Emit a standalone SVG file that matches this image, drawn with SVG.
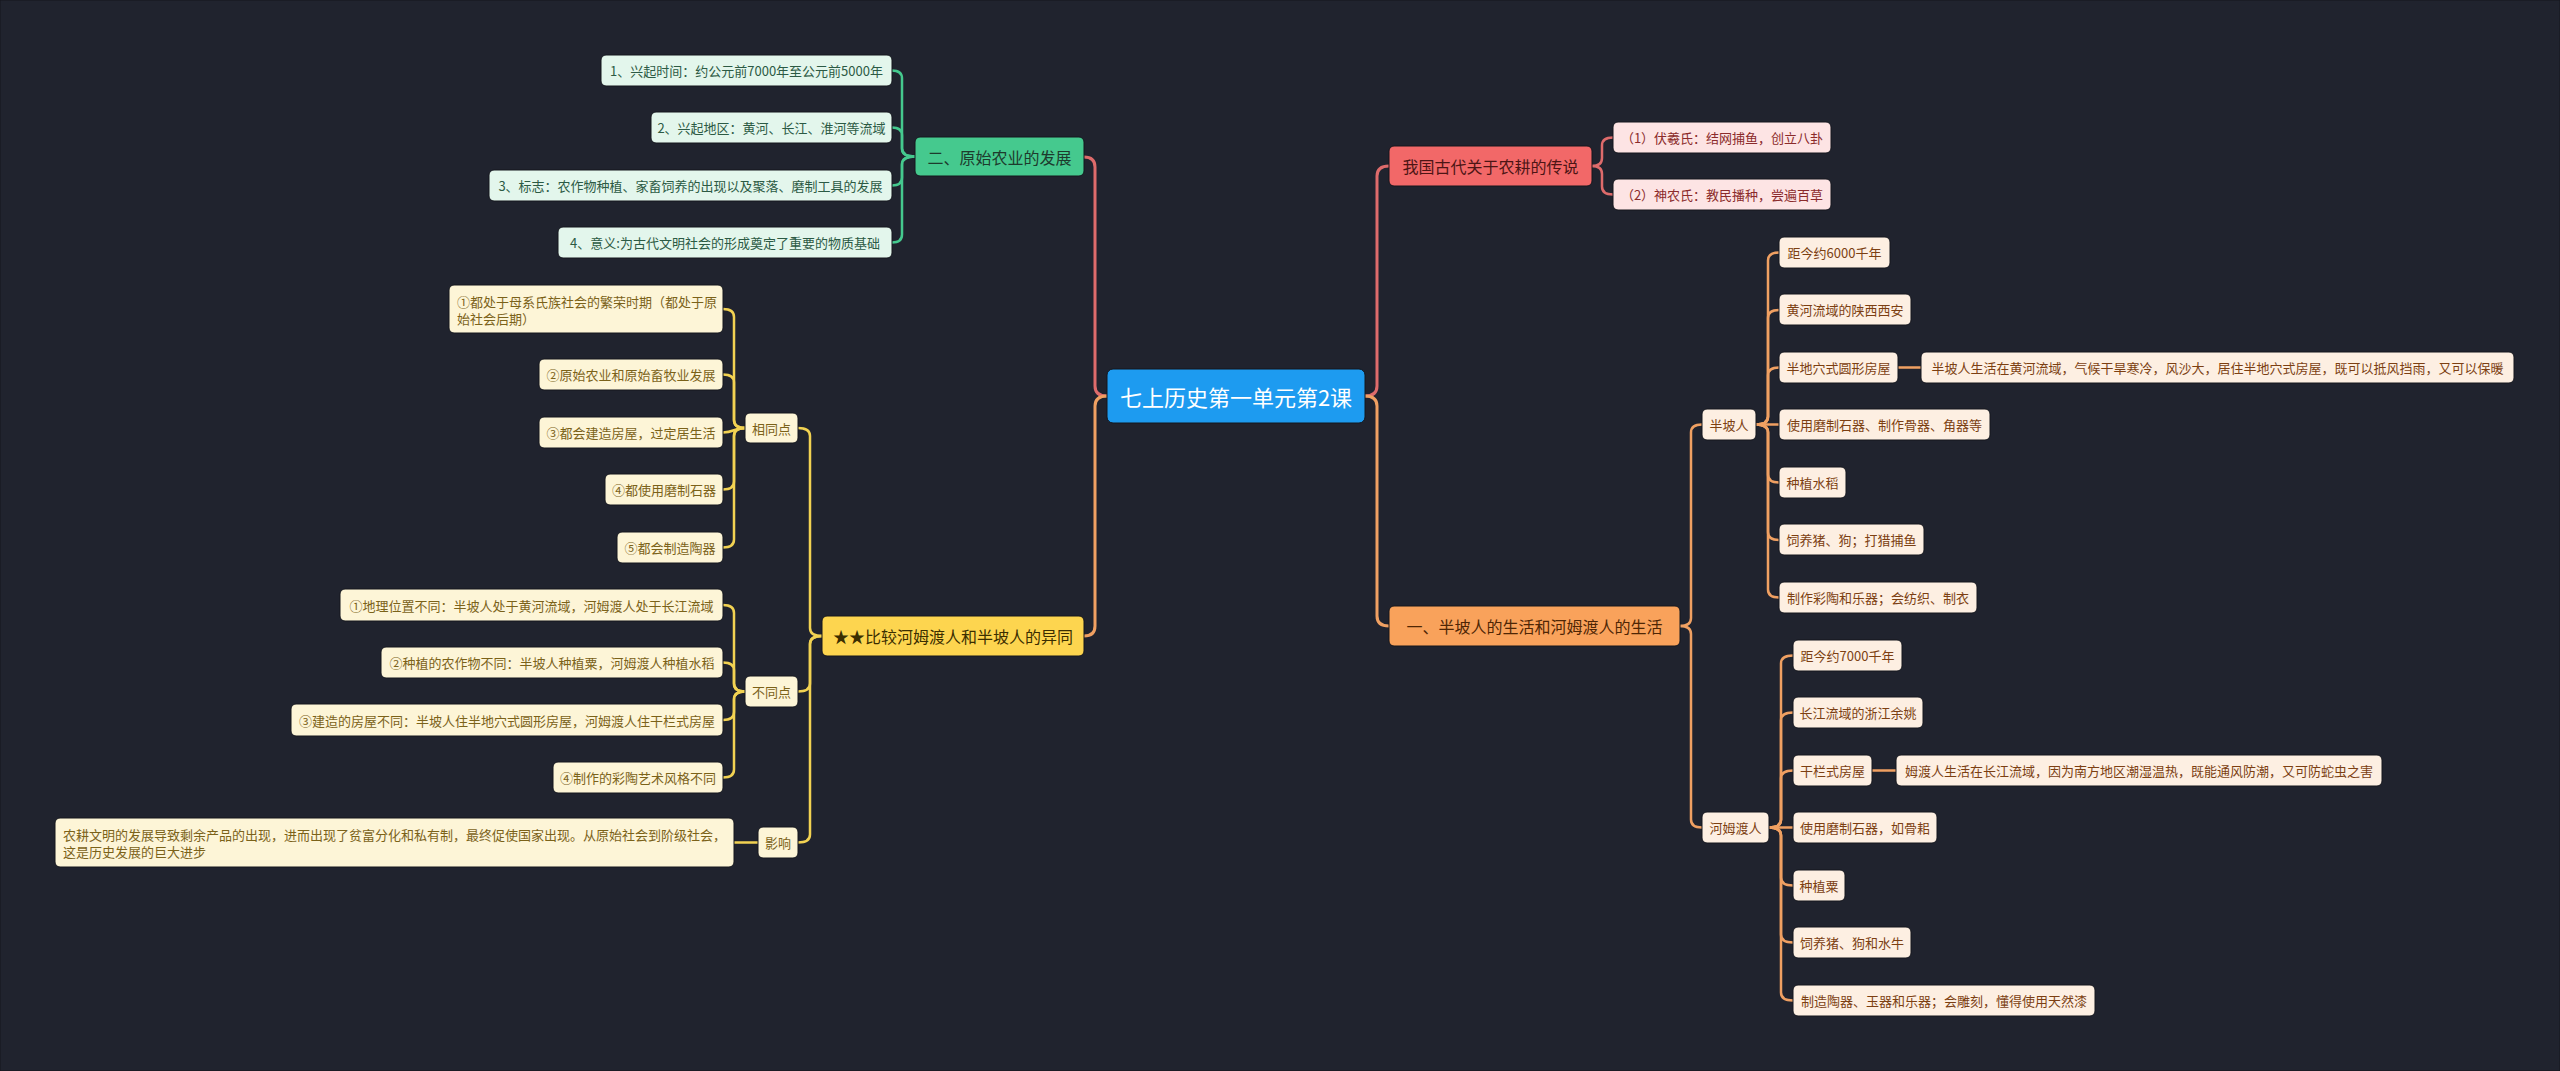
<svg xmlns="http://www.w3.org/2000/svg" width="2560" height="1071" viewBox="0 0 2560 1071">
<style>
.t{font-family:"Noto Sans CJK SC","Noto Sans",sans-serif;text-anchor:middle;dominant-baseline:central}
.tl{font-family:"Noto Sans CJK SC","Noto Sans",sans-serif;text-anchor:start;dominant-baseline:central}
rect{stroke:#14161d;stroke-width:1}
.c{fill:none;stroke-linecap:round;stroke-linejoin:round}
.root rect{fill:#1d9bf0}.root text{fill:#fff;font-size:22px}
.g1 rect{fill:#45c98e}.g1 text{fill:#1d3b2d;font-size:16px}
.g2 rect{fill:#e3f6ec}.g2 text{fill:#2c5a44;font-size:13px}
.y1 rect{fill:#fdd54f}.y1 text{fill:#3b2e00;font-size:16px}
.y2 rect{fill:#fdf5d7}.y2 text{fill:#7b6219;font-size:13px}
.r1 rect{fill:#f26868}.r1 text{fill:#4d1515;font-size:16px}
.r2 rect{fill:#fde4e4}.r2 text{fill:#8b2b2b;font-size:13px}
.o1 rect{fill:#f9a25b}.o1 text{fill:#4f2605;font-size:16px}
.o2 rect{fill:#fdefe2}.o2 text{fill:#7c3f12;font-size:13px}
.cr{stroke:#de6b6b;stroke-width:3}
.co{stroke:#f0a062;stroke-width:3}
.cg{stroke:#45c98e;stroke-width:2.5}
.cy{stroke:#f2d252;stroke-width:2.5}
.co2{stroke:#f0a062;stroke-width:2.5}
.cr2{stroke:#de6b6b;stroke-width:2.5}
</style>
<rect x="0" y="0" width="2560" height="1071" fill="#20232e" stroke="none"/>
<g id="connectors">
<path class="c cr" d="M1107,396 Q1095,396 1095,386 L1095,167 Q1095,157 1084,157"/>
<path class="c co" d="M1107,396 Q1095,396 1095,406 L1095,626 Q1095,636 1084,636"/>
<path class="c cr" d="M1365,396 Q1377,396 1377,386 L1377,176 Q1377,166 1389,166"/>
<path class="c co" d="M1365,396 Q1377,396 1377,406 L1377,616 Q1377,626 1389,626"/>
<path class="c cg" d="M915,156.5 Q902,156.5 902,148.5 L902,78.5 Q902,70.5 892,70.5"/>
<path class="c cg" d="M915,156.5 Q902,156.5 902,148.5 L902,135.5 Q902,127.5 892,127.5"/>
<path class="c cg" d="M915,156.5 Q902,156.5 902,164.5 L902,177.5 Q902,185.5 892,185.5"/>
<path class="c cg" d="M915,156.5 Q902,156.5 902,164.5 L902,234.5 Q902,242.5 892,242.5"/>
<path class="c cy" d="M822,636 Q810,636 810,628 L810,436 Q810,428 798,428"/>
<path class="c cy" d="M822,636 Q810,636 810,644 L810,683.5 Q810,691.5 798,691.5"/>
<path class="c cy" d="M822,636 Q810,636 810,644 L810,834.5 Q810,842.5 798,842.5"/>
<path class="c cy" d="M745,428 Q734,428 734,420 L734,317 Q734,309 723,309"/>
<path class="c cy" d="M745,428 Q734,428 734,420 L734,382.5 Q734,374.5 723,374.5"/>
<path class="c cy" d="M745,428 C734,428 734,432.5 723,432.5"/>
<path class="c cy" d="M745,428 Q734,428 734,436 L734,481.5 Q734,489.5 723,489.5"/>
<path class="c cy" d="M745,428 Q734,428 734,436 L734,539.5 Q734,547.5 723,547.5"/>
<path class="c cy" d="M745,691.5 Q734,691.5 734,683.5 L734,613 Q734,605 723,605"/>
<path class="c cy" d="M745,691.5 Q734,691.5 734,683.5 L734,670.5 Q734,662.5 723,662.5"/>
<path class="c cy" d="M745,691.5 Q734,691.5 734,699.5 L734,712 Q734,720 723,720"/>
<path class="c cy" d="M745,691.5 Q734,691.5 734,699.5 L734,769.5 Q734,777.5 723,777.5"/>
<path class="c cy" d="M758,842.5 L734,842.5"/>
<path class="c cr2" d="M1592,166 Q1602,166 1602,158 L1602,145.5 Q1602,137.5 1613,137.5"/>
<path class="c cr2" d="M1592,166 Q1602,166 1602,174 L1602,186.5 Q1602,194.5 1613,194.5"/>
<path class="c co2" d="M1680,626 Q1691,626 1691,618 L1691,432.5 Q1691,424.5 1702,424.5"/>
<path class="c co2" d="M1680,626 Q1691,626 1691,634 L1691,819.5 Q1691,827.5 1702,827.5"/>
<path class="c co2" d="M1756,424.5 Q1768,424.5 1768,416.5 L1768,260.5 Q1768,252.5 1779,252.5"/>
<path class="c co2" d="M1756,424.5 Q1768,424.5 1768,416.5 L1768,318 Q1768,310 1779,310"/>
<path class="c co2" d="M1756,424.5 Q1768,424.5 1768,416.5 L1768,375.5 Q1768,367.5 1779,367.5"/>
<path class="c co2" d="M1756,424.5 L1779,424.5"/>
<path class="c co2" d="M1756,424.5 Q1768,424.5 1768,432.5 L1768,474.5 Q1768,482.5 1779,482.5"/>
<path class="c co2" d="M1756,424.5 Q1768,424.5 1768,432.5 L1768,532 Q1768,540 1779,540"/>
<path class="c co2" d="M1756,424.5 Q1768,424.5 1768,432.5 L1768,589.5 Q1768,597.5 1779,597.5"/>
<path class="c co2" d="M1898,367.5 L1921,367.5"/>
<path class="c co2" d="M1769,827.5 Q1781,827.5 1781,819.5 L1781,663.5 Q1781,655.5 1793,655.5"/>
<path class="c co2" d="M1769,827.5 Q1781,827.5 1781,819.5 L1781,720.5 Q1781,712.5 1793,712.5"/>
<path class="c co2" d="M1769,827.5 Q1781,827.5 1781,819.5 L1781,778.5 Q1781,770.5 1793,770.5"/>
<path class="c co2" d="M1769,827.5 L1793,827.5"/>
<path class="c co2" d="M1769,827.5 Q1781,827.5 1781,835.5 L1781,877.5 Q1781,885.5 1793,885.5"/>
<path class="c co2" d="M1769,827.5 Q1781,827.5 1781,835.5 L1781,934.5 Q1781,942.5 1793,942.5"/>
<path class="c co2" d="M1769,827.5 Q1781,827.5 1781,835.5 L1781,992.5 Q1781,1000.5 1793,1000.5"/>
<path class="c co2" d="M1872,770.5 L1896,770.5"/>
</g>
<g id="root" class="root"><rect x="1107" y="369" width="258" height="54" rx="6"/><text class="t" x="1236" y="396">七上历史第一单元第2课</text></g>

<g id="n-er" class="g1"><rect x="915" y="137" width="169" height="39" rx="5"/><text class="t" x="999.5" y="156.5">二、原始农业的发展</text></g>
<g id="n-a1" class="g2"><rect x="601" y="55" width="291" height="31" rx="5"/><text class="t" x="746.5" y="70.5">1、兴起时间：约公元前7000年至公元前5000年</text></g>
<g id="n-a2" class="g2"><rect x="651" y="112" width="241" height="31" rx="5"/><text class="t" x="771.5" y="127.5">2、兴起地区：黄河、长江、淮河等流域</text></g>
<g id="n-a3" class="g2"><rect x="489" y="170" width="403" height="31" rx="5"/><text class="t" x="690.5" y="185.5">3、标志：农作物种植、家畜饲养的出现以及聚落、磨制工具的发展</text></g>
<g id="n-a4" class="g2"><rect x="558" y="227" width="334" height="31" rx="5"/><text class="t" x="725" y="242.5">4、意义:为古代文明社会的形成奠定了重要的物质基础</text></g>

<g id="n-cmp" class="y1"><rect x="822" y="616" width="262" height="40" rx="5"/><text class="t" x="953" y="636">★★比较河姆渡人和半坡人的异同</text></g>
<g id="n-same" class="y2"><rect x="745" y="413" width="53" height="30" rx="5"/><text class="t" x="771.5" y="428">相同点</text></g>
<g id="n-s1" class="y2"><rect x="449" y="285" width="274" height="48" rx="5"/><text class="tl" x="457" y="301">①都处于母系氏族社会的繁荣时期（都处于原</text><text class="tl" x="457" y="318">始社会后期）</text></g>
<g id="n-s2" class="y2"><rect x="539" y="359" width="184" height="31" rx="5"/><text class="t" x="631" y="374.5">②原始农业和原始畜牧业发展</text></g>
<g id="n-s3" class="y2"><rect x="539" y="417" width="184" height="31" rx="5"/><text class="t" x="631" y="432.5">③都会建造房屋，过定居生活</text></g>
<g id="n-s4" class="y2"><rect x="605" y="474" width="118" height="31" rx="5"/><text class="t" x="664" y="489.5">④都使用磨制石器</text></g>
<g id="n-s5" class="y2"><rect x="617" y="532" width="106" height="31" rx="5"/><text class="t" x="670" y="547.5">⑤都会制造陶器</text></g>
<g id="n-diff" class="y2"><rect x="745" y="676" width="53" height="31" rx="5"/><text class="t" x="771.5" y="691.5">不同点</text></g>
<g id="n-d1" class="y2"><rect x="340" y="589" width="383" height="32" rx="5"/><text class="t" x="531.5" y="605">①地理位置不同：半坡人处于黄河流域，河姆渡人处于长江流域</text></g>
<g id="n-d2" class="y2"><rect x="381" y="647" width="342" height="31" rx="5"/><text class="t" x="552" y="662.5">②种植的农作物不同：半坡人种植粟，河姆渡人种植水稻</text></g>
<g id="n-d3" class="y2"><rect x="291" y="704" width="432" height="32" rx="5"/><text class="t" x="507" y="720">③建造的房屋不同：半坡人住半地穴式圆形房屋，河姆渡人住干栏式房屋</text></g>
<g id="n-d4" class="y2"><rect x="553" y="762" width="170" height="31" rx="5"/><text class="t" x="638" y="777.5">④制作的彩陶艺术风格不同</text></g>
<g id="n-eff" class="y2"><rect x="758" y="827" width="40" height="31" rx="5"/><text class="t" x="778" y="842.5">影响</text></g>
<g id="n-e1" class="y2"><rect x="55" y="818" width="679" height="49" rx="5"/><text class="tl" x="63" y="834.5">农耕文明的发展导致剩余产品的出现，进而出现了贫富分化和私有制，最终促使国家出现。从原始社会到阶级社会，</text><text class="tl" x="63" y="851.5">这是历史发展的巨大进步</text></g>

<g id="n-leg" class="r1"><rect x="1389" y="146" width="203" height="40" rx="5"/><text class="t" x="1490.5" y="166">我国古代关于农耕的传说</text></g>
<g id="n-l1" class="r2"><rect x="1613" y="122" width="218" height="31" rx="5"/><text class="t" x="1722" y="137.5">（1）伏羲氏：结网捕鱼，创立八卦</text></g>
<g id="n-l2" class="r2"><rect x="1613" y="179" width="218" height="31" rx="5"/><text class="t" x="1722" y="194.5">（2）神农氏：教民播种，尝遍百草</text></g>

<g id="n-life" class="o1"><rect x="1389" y="606" width="291" height="40" rx="5"/><text class="t" x="1534.5" y="626">一、半坡人的生活和河姆渡人的生活</text></g>
<g id="n-bp" class="o2"><rect x="1702" y="409" width="54" height="31" rx="5"/><text class="t" x="1729" y="424.5">半坡人</text></g>
<g id="n-bp1" class="o2"><rect x="1779" y="237" width="111" height="31" rx="5"/><text class="t" x="1834.5" y="252.5">距今约6000千年</text></g>
<g id="n-bp2" class="o2"><rect x="1779" y="294" width="132" height="31" rx="5"/><text class="t" x="1845" y="309.5">黄河流域的陕西西安</text></g>
<g id="n-bp3" class="o2"><rect x="1779" y="352" width="119" height="31" rx="5"/><text class="t" x="1838.5" y="367.5">半地穴式圆形房屋</text></g>
<g id="n-bp3a" class="o2"><rect x="1921" y="352" width="593" height="31" rx="5"/><text class="t" x="2217.5" y="367.5">半坡人生活在黄河流域，气候干旱寒冷，风沙大，居住半地穴式房屋，既可以抵风挡雨，又可以保暖</text></g>
<g id="n-bp4" class="o2"><rect x="1779" y="409" width="211" height="31" rx="5"/><text class="t" x="1884.5" y="424.5">使用磨制石器、制作骨器、角器等</text></g>
<g id="n-bp5" class="o2"><rect x="1779" y="467" width="67" height="31" rx="5"/><text class="t" x="1812.5" y="482.5">种植水稻</text></g>
<g id="n-bp6" class="o2"><rect x="1779" y="524" width="145" height="31" rx="5"/><text class="t" x="1851.5" y="539.5">饲养猪、狗；打猎捕鱼</text></g>
<g id="n-bp7" class="o2"><rect x="1779" y="582" width="198" height="31" rx="5"/><text class="t" x="1878" y="597.5">制作彩陶和乐器；会纺织、制衣</text></g>
<g id="n-hm" class="o2"><rect x="1702" y="812" width="67" height="31" rx="5"/><text class="t" x="1735.5" y="827.5">河姆渡人</text></g>
<g id="n-hm1" class="o2"><rect x="1793" y="640" width="109" height="31" rx="5"/><text class="t" x="1847.5" y="655.5">距今约7000千年</text></g>
<g id="n-hm2" class="o2"><rect x="1793" y="697" width="130" height="31" rx="5"/><text class="t" x="1858" y="712.5">长江流域的浙江余姚</text></g>
<g id="n-hm3" class="o2"><rect x="1793" y="755" width="79" height="31" rx="5"/><text class="t" x="1832.5" y="770.5">干栏式房屋</text></g>
<g id="n-hm3a" class="o2"><rect x="1896" y="755" width="486" height="31" rx="5"/><text class="t" x="2139" y="770.5">姆渡人生活在长江流域，因为南方地区潮湿温热，既能通风防潮，又可防蛇虫之害</text></g>
<g id="n-hm4" class="o2"><rect x="1793" y="812" width="144" height="31" rx="5"/><text class="t" x="1865" y="827.5">使用磨制石器，如骨耜</text></g>
<g id="n-hm5" class="o2"><rect x="1793" y="870" width="52" height="31" rx="5"/><text class="t" x="1819" y="885.5">种植粟</text></g>
<g id="n-hm6" class="o2"><rect x="1793" y="927" width="118" height="31" rx="5"/><text class="t" x="1852" y="942.5">饲养猪、狗和水牛</text></g>
<g id="n-hm7" class="o2"><rect x="1793" y="985" width="302" height="31" rx="5"/><text class="t" x="1944" y="1000.5">制造陶器、玉器和乐器；会雕刻，懂得使用天然漆</text></g>
</svg>
